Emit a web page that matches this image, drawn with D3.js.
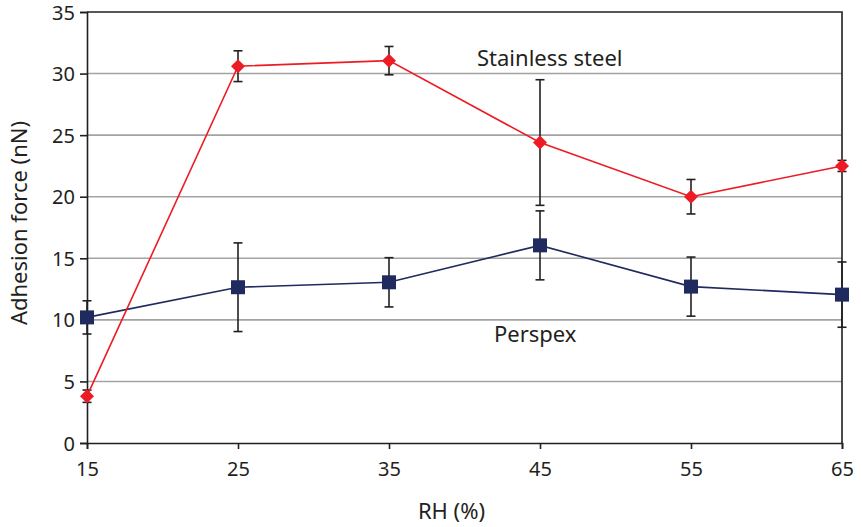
<!DOCTYPE html>
<html>
<head>
<meta charset="utf-8">
<script src="https://cdn.jsdelivr.net/npm/d3@7"></script>
<style>
  html, body { margin: 0; padding: 0; background: #fff; }
  svg { display: block; font-family: "Noto Sans", sans-serif; }
</style>
</head>
<body>
<svg id="chart" width="862" height="527"></svg>
<script>
// Relative humidity levels (%)
const rh = [15, 25, 35, 45, 55, 65];
// Mean adhesion force (nN) and standard deviation per surface
const steelForce = [3.8, 30.6, 31.05, 24.4, 20.0, 22.5];
const steelErr   = [0.5, 1.25, 1.15, 5.1, 1.4, 0.45];
const perspexForce = [10.2, 12.65, 13.05, 16.05, 12.7, 12.05];
const perspexErr   = [1.35, 3.6, 2.0, 2.8, 2.4, 2.65];
const yTicks = [0, 5, 10, 15, 20, 25, 30, 35];

const svg = d3.select("#chart");
const m = { left: 87, right: 842, top: 12, bottom: 443 };

const x = d3.scaleLinear().domain([15, 65]).range([m.left, m.right]);
const y = d3.scaleLinear().domain([0, 35]).range([m.bottom, m.top]);

// horizontal gridlines
svg.append("g")
  .selectAll("line")
  .data(yTicks.filter(d => d > 0 && d < 35))
  .join("line")
  .attr("x1", m.left).attr("x2", m.right)
  .attr("y1", d => y(d)).attr("y2", d => y(d))
  .attr("stroke", "#a3a3a3").attr("stroke-width", 1.6);

// frame: top and right edges
svg.append("path")
  .attr("d", `M${m.left},${m.top}H${m.right}V${m.bottom}`)
  .attr("fill", "none").attr("stroke", "#231f20").attr("stroke-width", 1.6);

// axes
const xAxis = svg.append("g")
  .attr("transform", `translate(0,${m.bottom})`)
  .call(d3.axisBottom(x).tickValues(rh).tickSize(6).tickPadding(8).tickFormat(d3.format("d")));
const yAxis = svg.append("g")
  .attr("transform", `translate(${m.left},0)`)
  .call(d3.axisLeft(y).tickValues(yTicks).tickSize(7).tickPadding(5).tickFormat(d3.format("d")));

[xAxis, yAxis].forEach(g => {
  g.select(".domain").attr("stroke", "#231f20").attr("stroke-width", 1.6);
  g.selectAll(".tick line").attr("stroke", "#231f20").attr("stroke-width", 1.6);
  g.selectAll(".tick text")
    .attr("fill", "#231f20")
    .style("font-family", "'Noto Sans', sans-serif")
    .style("font-size", "20px");
});
xAxis.selectAll(".tick text").attr("dy", "0.95em");
yAxis.selectAll(".tick text").attr("dy", "0.35em");

// axis titles
svg.append("text")
  .attr("x", x(40) - 13).attr("y", 519)
  .attr("text-anchor", "middle")
  .attr("fill", "#231f20")
  .style("font-size", "22px")
  .text("RH (%)");

svg.append("text")
  .attr("transform", "translate(27,223) rotate(-90)")
  .attr("text-anchor", "middle")
  .attr("fill", "#231f20")
  .style("font-size", "22px")
  .text("Adhesion force (nN)");

// one series: error bars, connecting line, markers
function drawSeries(values, errs, color, symbolSize, angle) {
  const pts = rh.map((r, i) => ({ r, v: values[i], e: errs[i] }));

  const eb = svg.append("g").attr("stroke", "#231f20").attr("stroke-width", 1.6);
  pts.forEach(p => {
    const cx = x(p.r), top = y(p.v + p.e), bot = y(p.v - p.e);
    eb.append("line").attr("x1", cx).attr("x2", cx).attr("y1", top).attr("y2", bot);
    eb.append("line").attr("x1", cx - 4.5).attr("x2", cx + 4.5).attr("y1", top).attr("y2", top);
    eb.append("line").attr("x1", cx - 4.5).attr("x2", cx + 4.5).attr("y1", bot).attr("y2", bot);
  });

  svg.append("path")
    .datum(pts)
    .attr("fill", "none")
    .attr("stroke", color)
    .attr("stroke-width", 1.6)
    .attr("d", d3.line().x(d => x(d.r)).y(d => y(d.v)));

  svg.append("g")
    .selectAll("path")
    .data(pts)
    .join("path")
    .attr("transform", d => `translate(${x(d.r)},${y(d.v)}) rotate(${angle})`)
    .attr("d", d3.symbol().type(d3.symbolSquare).size(symbolSize))
    .attr("fill", color);
}

drawSeries(perspexForce, perspexErr, "#1f2a5e", 196, 0);
drawSeries(steelForce, steelErr, "#ed1c24", 98, 45);

// series labels
svg.append("text")
  .attr("x", 477).attr("y", 66)
  .attr("fill", "#231f20")
  .style("font-size", "22px")
  .text("Stainless steel");

svg.append("text")
  .attr("x", 494).attr("y", 342)
  .attr("fill", "#231f20")
  .style("font-size", "22px")
  .text("Perspex");
</script>
</body>
</html>
